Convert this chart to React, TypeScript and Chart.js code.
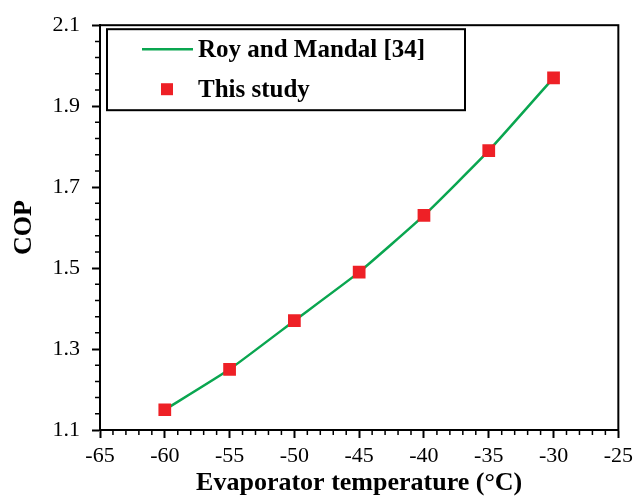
import React, { useEffect, useRef } from "react";
import { Chart, registerables } from "chart.js";

Chart.register(...registerables);

const TEMPS = [-60, -55, -50, -45, -40, -35, -30];
const ROY_MANDAL = [1.15, 1.25, 1.37, 1.49, 1.63, 1.79, 1.97];
const THIS_STUDY = [1.15, 1.25, 1.37, 1.49, 1.63, 1.79, 1.97];
const X_TICKS = [-65, -60, -55, -50, -45, -40, -35, -30, -25];
const Y_TICKS = [1.1, 1.3, 1.5, 1.7, 1.9, 2.1];
const SERIES_LABELS = ["Roy and Mandal [34]", "This study"];
const X_TITLE = "Evaporator temperature (°C)";
const Y_TITLE = "COP";

const FONT = "'Liberation Serif', 'Times New Roman', Times, serif";
const GREEN = "#0aa650";
const RED = "#ee2026";

const decorPlugin = {
  id: "decor",
  afterDraw(chart: any) {
    const { ctx, chartArea, scales } = chart;
    const { left, right, top, bottom } = chartArea;
    const x = scales.x;
    const y = scales.y;
    ctx.save();
    // frame
    ctx.strokeStyle = "#000";
    ctx.lineWidth = 2;
    ctx.strokeRect(left, top, right - left, bottom - top);
    // minor ticks
    ctx.lineWidth = 1.5;
    ctx.beginPath();
    for (let i = 0; i < X_TICKS.length - 1; i++) {
      const a = X_TICKS[i];
      const step = (X_TICKS[i + 1] - a) / 5;
      for (let k = 1; k < 5; k++) {
        const px = x.getPixelForValue(a + step * k);
        ctx.moveTo(px, bottom);
        ctx.lineTo(px, bottom + 5);
      }
    }
    for (let i = 0; i < Y_TICKS.length - 1; i++) {
      const a = Y_TICKS[i];
      const step = (Y_TICKS[i + 1] - a) / 5;
      for (let k = 1; k < 5; k++) {
        const py = y.getPixelForValue(a + step * k);
        ctx.moveTo(left - 5, py);
        ctx.lineTo(left, py);
      }
    }
    ctx.stroke();

    // legend
    const bx = left + 7;
    const by = top + 4;
    ctx.lineWidth = 2;
    ctx.strokeStyle = "#000";
    ctx.strokeRect(bx, by, 358, 81);
    const row1 = by + 20;
    const row2 = by + 60;
    ctx.strokeStyle = GREEN;
    ctx.lineWidth = 2.5;
    ctx.beginPath();
    ctx.moveTo(bx + 35, row1);
    ctx.lineTo(bx + 86, row1);
    ctx.stroke();
    ctx.fillStyle = RED;
    ctx.fillRect(bx + 54, row2 - 6, 12, 12);
    ctx.fillStyle = "#000";
    ctx.font = `bold 25px ${FONT}`;
    ctx.textAlign = "left";
    ctx.textBaseline = "middle";
    ctx.fillText(SERIES_LABELS[0], bx + 91, row1 + 1);
    ctx.fillText(SERIES_LABELS[1], bx + 91, row2 + 1);
    ctx.restore();
  },
};

export default function App() {
  const ref = useRef<HTMLCanvasElement | null>(null);
  useEffect(() => {
    if (!ref.current) return;
    Chart.defaults.font.family = FONT;
    Chart.defaults.color = "#000";
    const chart = new Chart(ref.current, {
      type: "line",
      data: {
        datasets: [
          {
            label: SERIES_LABELS[0],
            data: TEMPS.map((t, i) => ({ x: t, y: ROY_MANDAL[i] })),
            borderColor: GREEN,
            borderWidth: 2.5,
            pointRadius: 0,
            tension: 0.15,
            fill: false,
            order: 2,
          },
          {
            label: SERIES_LABELS[1],
            data: TEMPS.map((t, i) => ({ x: t, y: THIS_STUDY[i] })),
            showLine: false,
            pointStyle: "rect",
            pointRadius: 9,
            pointBackgroundColor: RED,
            pointBorderColor: RED,
            pointBorderWidth: 0,
            order: 1,
          },
        ],
      },
      options: {
        animation: false,
        responsive: false,
        layout: { padding: { top: 22, right: 16, bottom: 0, left: 0 } },
        plugins: { legend: { display: false }, tooltip: { enabled: false } },
        scales: {
          x: {
            type: "linear",
            min: -65,
            max: -25,
            afterBuildTicks: (s: any) => {
              s.ticks = X_TICKS.map((v) => ({ value: v }));
            },
            afterFit: (s: any) => {
              s.height = 71;
            },
            grid: {
              drawOnChartArea: false,
              tickLength: 8,
              tickWidth: 2,
              tickColor: "#000",
            },
            border: { display: true, color: "#000", width: 2 },
            ticks: {
              font: { size: 22, family: FONT },
              color: "#000",
              padding: 5,
              maxRotation: 0,
              callback: (v: any) => String(v),
            },
            title: {
              display: true,
              text: X_TITLE,
              font: { size: 26, weight: "bold", family: FONT },
              color: "#000",
              padding: { top: 0, bottom: 2 },
            },
          },
          y: {
            type: "linear",
            min: 1.1,
            max: 2.1,
            afterBuildTicks: (s: any) => {
              s.ticks = Y_TICKS.map((v) => ({ value: v }));
            },
            afterFit: (s: any) => {
              s.width = 100;
            },
            grid: {
              drawOnChartArea: false,
              tickLength: 8,
              tickWidth: 2,
              tickColor: "#000",
            },
            border: { display: true, color: "#000", width: 2 },
            ticks: {
              font: { size: 22, family: FONT },
              color: "#000",
              padding: 12,
              callback: (v: any) => Number(v).toFixed(1),
            },
            title: {
              display: true,
              text: Y_TITLE,
              font: { size: 26, weight: "bold", family: FONT },
              color: "#000",
              padding: { top: 9, bottom: 0 },
            },
          },
        },
      },
      plugins: [decorPlugin],
    });
    return () => chart.destroy();
  }, []);
  return (
    <div style={{ position: "absolute", left: 0, top: 0, width: 638, height: 501, background: "#fff" }}>
      <canvas ref={ref} width={638} height={501} />
    </div>
  );
}
